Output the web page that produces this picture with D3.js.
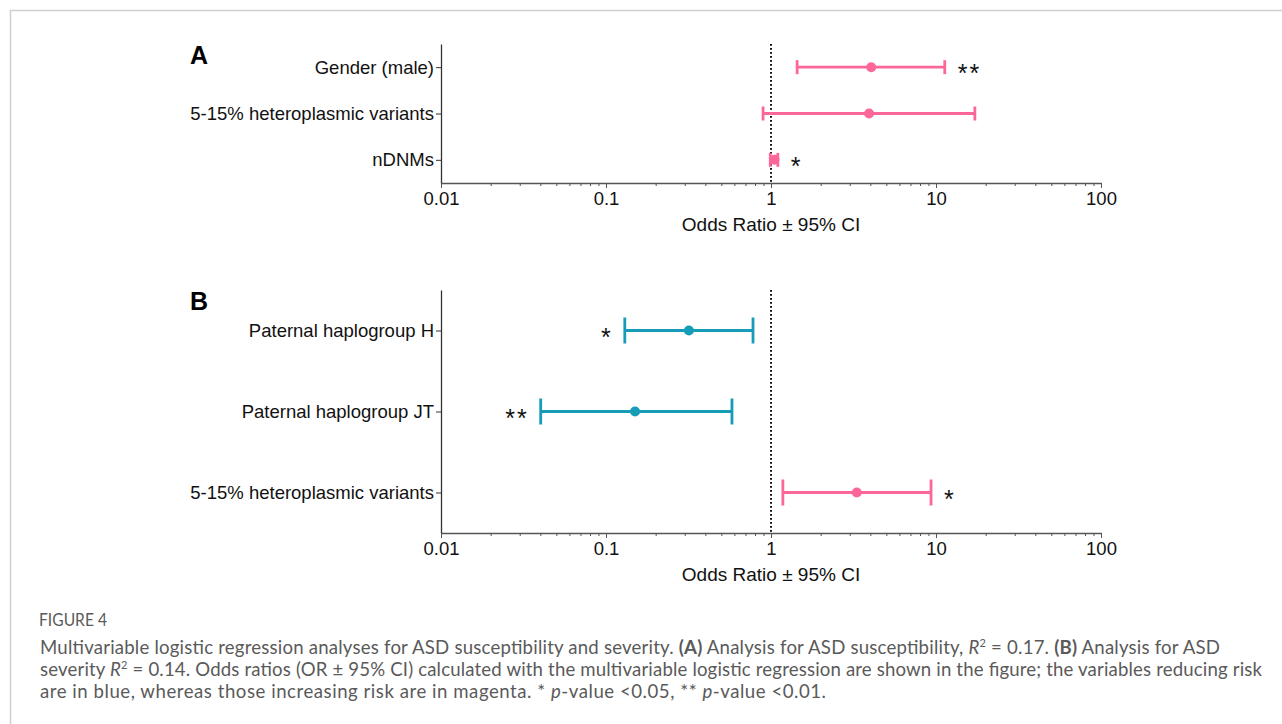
<!DOCTYPE html>
<html>
<head>
<meta charset="utf-8">
<script src="https://cdn.jsdelivr.net/npm/d3@7"></script>
<style>
  body { margin: 0; background: #fff; }
  svg text { font-family: "Liberation Sans", Arial, sans-serif; }
  .caption text { font-family: Lato, "Open Sans", sans-serif; }
</style>
</head>
<body>
<svg id="chart" width="1282" height="724"></svg>
<script>
// Panel A: ASD susceptibility
const labelsA = ['Gender (male)', '5-15% heteroplasmic variants', 'nDNMs'];
const orA     = [4.05, 3.93, 1.05];
const lowA    = [1.44, 0.895, 0.99];
const highA   = [11.3, 17.2, 1.10];
const sigA    = ['**', '', '*'];
const riskA   = ['up', 'up', 'up'];

// Panel B: ASD severity
const labelsB = ['Paternal haplogroup H', 'Paternal haplogroup JT', '5-15% heteroplasmic variants'];
const orB     = [0.318, 0.150, 3.31];
const lowB    = [0.130, 0.0402, 1.18];
const highB   = [0.778, 0.58, 9.33];
const sigB    = ['*', '**', '*'];
const riskB   = ['down', 'down', 'up'];

const majorTicks = [0.01, 0.1, 1, 10, 100];
const tickLabels = ['0.01', '0.1', '1', '10', '100'];

const pink = '#fd6699';
const teal = '#179cb8';

const svg = d3.select('#chart');

// page frame
svg.append('path')
  .attr('d', 'M10.5,724 V10.5 H1282')
  .attr('fill', 'none').attr('stroke', '#cfcfcf').attr('stroke-width', 1.5);

const x = d3.scaleLog().domain([0.01, 100]).range([441, 1101]);
const minorTicks = [];
for (let e = -2; e < 2; e++) {
  for (let m = 2; m <= 9; m++) minorTicks.push(m * Math.pow(10, e));
}

function panel(opts) {
  const { letter, labels, or, low, high, sig, risk, top, bottom, capH } = opts;
  const g = svg.append('g');
  const y = d3.scalePoint().domain(labels).range([top, bottom]).padding(0.5);

  g.append('text').attr('x', 190).attr('y', top + 20)
    .attr('font-size', 25).attr('font-weight', 'bold').text(letter);

  // reference line at OR = 1
  g.append('line')
    .attr('x1', x(1)).attr('x2', x(1)).attr('y1', top).attr('y2', bottom)
    .attr('stroke', '#111').attr('stroke-width', 2)
    .attr('stroke-dasharray', '1.8 2.2');

  // y axis
  const ya = g.append('g').attr('transform', `translate(${x(0.01)},0)`)
    .call(d3.axisLeft(y).tickSize(5).tickPadding(2).tickSizeOuter(0));
  ya.select('.domain').attr('stroke', '#333').attr('stroke-width', 1.3);
  ya.selectAll('.tick line').attr('stroke', '#333');
  ya.selectAll('.tick text').attr('font-size', 18.5).attr('fill', '#111')
    .style('font-family', '"Liberation Sans", Arial, sans-serif');

  // x axis: minor then major
  const xm = g.append('g').attr('transform', `translate(0,${bottom})`)
    .call(d3.axisBottom(x).tickValues(minorTicks).tickSize(3).tickFormat('').tickSizeOuter(0));
  xm.select('.domain').remove();
  xm.selectAll('.tick line').attr('stroke', '#555');
  const xa = g.append('g').attr('transform', `translate(0,${bottom})`)
    .call(d3.axisBottom(x).tickValues(majorTicks).tickSize(5).tickPadding(4).tickSizeOuter(0)
      .tickFormat((d, i) => tickLabels[i]));
  xa.select('.domain').attr('stroke', '#555').attr('stroke-width', 1.5);
  xa.selectAll('.tick line').attr('stroke', '#555');
  xa.selectAll('.tick text').attr('font-size', 18.5).attr('fill', '#111')
    .style('font-family', '"Liberation Sans", Arial, sans-serif');

  g.append('text').attr('x', x(1)).attr('y', bottom + 48)
    .attr('text-anchor', 'middle').attr('font-size', 19).attr('fill', '#111')
    .text('Odds Ratio \u00b1 95% CI');

  const rows = labels.map((l, i) => ({ l, or: or[i], lo: low[i], hi: high[i], s: sig[i], c: risk[i] === 'down' ? teal : pink }));

  const r = g.selectAll('.row').data(rows).enter().append('g').attr('class', 'row');
  r.append('line')
    .attr('x1', d => x(d.lo)).attr('x2', d => x(d.hi))
    .attr('y1', d => y(d.l)).attr('y2', d => y(d.l))
    .attr('stroke', d => d.c).attr('stroke-width', 2.8);
  r.append('line')
    .attr('x1', d => x(d.lo)).attr('x2', d => x(d.lo))
    .attr('y1', d => y(d.l) - capH / 2).attr('y2', d => y(d.l) + capH / 2)
    .attr('stroke', d => d.c).attr('stroke-width', 2.8);
  r.append('line')
    .attr('x1', d => x(d.hi)).attr('x2', d => x(d.hi))
    .attr('y1', d => y(d.l) - capH / 2).attr('y2', d => y(d.l) + capH / 2)
    .attr('stroke', d => d.c).attr('stroke-width', 2.8);
  r.append('circle')
    .attr('cx', d => x(d.or)).attr('cy', d => y(d.l)).attr('r', 5)
    .attr('fill', d => d.c);
  r.append('text')
    .attr('x', d => d.c === teal ? x(d.lo) - 12 : x(d.hi) + 13)
    .attr('y', d => y(d.l) + 15)
    .attr('text-anchor', d => d.c === teal ? 'end' : 'start')
    .attr('font-size', 25).attr('letter-spacing', 2).attr('fill', '#111')
    .text(d => d.s);
}

panel({ letter: 'A', labels: labelsA, or: orA, low: lowA, high: highA, sig: sigA, risk: riskA,
        top: 44, bottom: 183, capH: 14 });
panel({ letter: 'B', labels: labelsB, or: orB, low: lowB, high: highB, sig: sigB, risk: riskB,
        top: 290, bottom: 533, capH: 26 });

// caption
const cap = svg.append('g').attr('class', 'caption').attr('fill', '#5a5a5a');
cap.append('text').attr('x', 39).attr('y', 626).attr('font-size', 17.5)
  .attr('textLength', 68).attr('lengthAdjust', 'spacingAndGlyphs').text('FIGURE 4');

function line(y, width, parts) {
  const t = cap.append('text').attr('x', 40).attr('y', y).attr('font-size', 18.6)
    .attr('textLength', width).attr('lengthAdjust', 'spacing');
  parts.forEach(p => {
    const ts = t.append('tspan').text(p.t);
    if (p.b) ts.attr('font-weight', 'bold');
    if (p.i) ts.attr('font-style', 'italic');
    if (p.sup) ts.attr('font-size', 11).attr('dy', -7);
    if (p.down) ts.attr('dy', 7);
  });
}
line(654, 1180, [
  { t: 'Multivariable logistic regression analyses for ASD susceptibility and severity. ' },
  { t: '(A)', b: true }, { t: ' Analysis for ASD susceptibility, ' },
  { t: 'R', i: true }, { t: '2', sup: true }, { t: ' = 0.17. ', down: true },
  { t: '(B)', b: true }, { t: ' Analysis for ASD' }
]);
line(676, 1222, [
  { t: 'severity ' }, { t: 'R', i: true }, { t: '2', sup: true },
  { t: ' = 0.14. Odds ratios (OR \u00b1 95% CI) calculated with the multivariable logistic regression are shown in the figure; the variables reducing risk', down: true }
]);
line(698, 786, [
  { t: 'are in blue, whereas those increasing risk are in magenta. * ' },
  { t: 'p', i: true }, { t: '-value <0.05, ** ' }, { t: 'p', i: true }, { t: '-value <0.01.' }
]);
</script>
</body>
</html>
